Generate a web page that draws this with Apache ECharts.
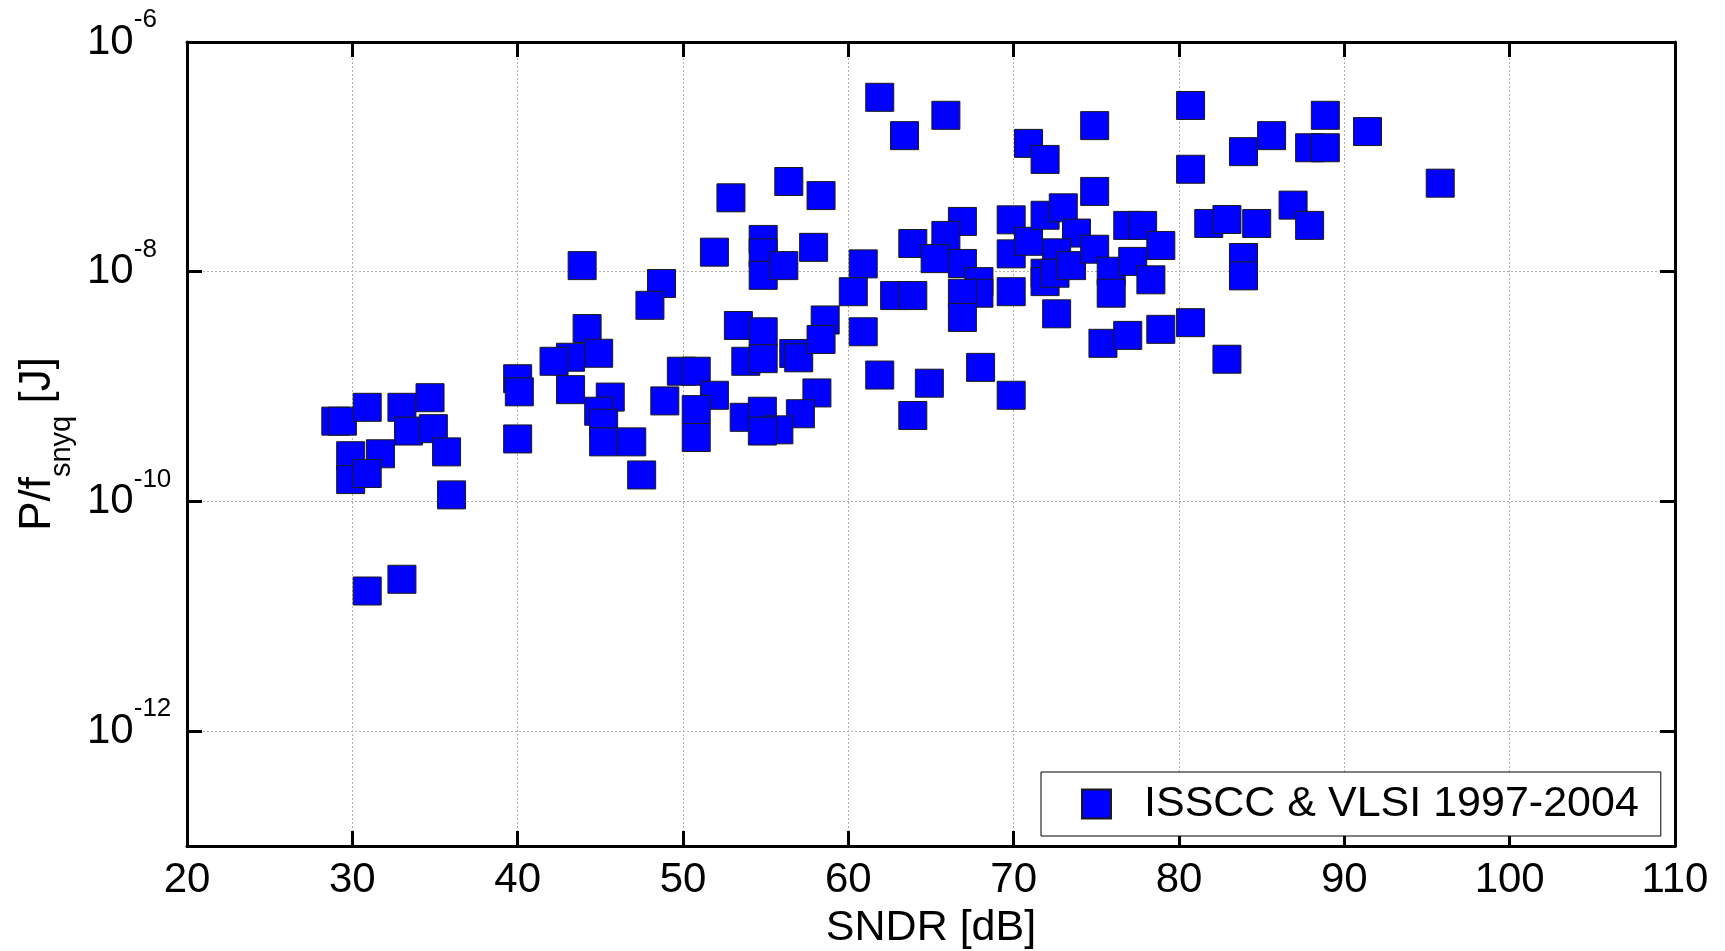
<!DOCTYPE html>
<html>
<head>
<meta charset="utf-8">
<script src="https://cdn.jsdelivr.net/npm/echarts@6/dist/echarts.min.js"></script>
<style>
html,body{margin:0;padding:0;background:#fff;}
#chart{width:1725px;height:951px;}
</style>
</head>
<body>
<div id="chart"></div>
<script>
// SNDR [dB]
const sndr = [
  29.0, 29.4, 30.9, 33.0, 34.7, 33.4, 34.9, 29.9, 31.7, 29.9, 30.9, 35.7, 36.0, 30.9, 33.0,
  40.0, 40.1, 40.0,
  43.9, 48.7, 48.0, 44.2, 43.2, 42.2, 44.9, 43.2, 45.6, 44.9, 45.2, 45.2, 46.9, 47.5, 48.9,
  49.9, 50.8, 51.9, 50.8, 50.8, 51.9, 53.35, 53.8, 53.7,
  61.9, 63.4, 65.9, 70.9, 71.9, 74.9, 74.9, 80.7, 80.7,
  52.9, 56.4, 58.35, 54.85, 54.85, 54.85, 56.1, 57.9,
  54.85, 54.85, 56.7, 57.0, 58.6, 58.35,
  60.9, 60.3, 60.9, 62.8, 63.9, 61.9, 64.9, 63.9, 68.0, 69.85,
  58.1, 57.1, 54.8, 55.8, 54.8,
  66.9, 65.9, 63.9, 65.25, 66.9, 67.9, 67.9, 66.9, 66.9,
  69.85, 69.85, 69.85, 70.9, 71.9, 73.0, 73.8, 72.6, 71.9, 71.9, 72.5, 73.5, 74.9, 75.9, 75.9,
  76.9, 77.8, 77.2, 78.3, 78.9,
  72.6, 75.4, 76.9, 78.9, 80.7,
  88.85, 85.6, 83.9, 87.9, 88.85, 91.4, 95.8, 81.8, 82.9, 84.7, 86.9, 87.9, 83.9, 83.9, 82.9
];
// P / f_snyq [J]
const energy = [
  5.0e-10, 5.0e-10, 6.6e-10, 6.6e-10, 8.0e-10, 4.1e-10, 4.3e-10, 2.5e-10, 2.6e-10, 1.55e-10, 1.75e-10, 2.7e-10, 1.14e-10, 1.66e-11, 2.1e-11,
  1.17e-9, 9.0e-10, 3.5e-10,
  1.13e-8, 7.9e-9, 5.1e-9, 3.2e-9, 1.8e-9, 1.66e-9, 1.95e-9, 9.4e-10, 8.1e-10, 6.1e-10, 4.8e-10, 3.3e-10, 3.3e-10, 1.7e-10, 7.5e-10,
  1.36e-9, 1.36e-9, 8.4e-10, 6.3e-10, 3.6e-10, 1.48e-8, 3.4e-9, 1.66e-9, 5.4e-10,
  3.3e-7, 1.53e-7, 2.3e-7, 1.31e-7, 9.5e-8, 1.87e-7, 5.0e-8, 2.8e-7, 7.8e-8,
  4.4e-8, 6.1e-8, 4.6e-8, 1.91e-8, 1.46e-8, 9.3e-9, 1.13e-8, 1.63e-8,
  3.0e-9, 1.75e-9, 1.94e-9, 1.78e-9, 3.8e-9, 2.57e-9,
  1.17e-8, 6.7e-9, 3.0e-9, 6.2e-9, 6.2e-9, 1.26e-9, 1.07e-9, 5.6e-10, 1.47e-9, 8.4e-10,
  8.8e-10, 5.8e-10, 6.1e-10, 4.2e-10, 4.1e-10,
  2.74e-8, 2.07e-8, 1.76e-8, 1.3e-8, 1.18e-8, 8.2e-9, 6.5e-9, 6.5e-9, 4.0e-9,
  2.83e-8, 1.43e-8, 6.7e-9, 1.84e-8, 3.1e-8, 3.6e-8, 2.17e-8, 1.46e-8, 9.7e-9, 8.2e-9, 9.7e-9, 1.13e-8, 1.57e-8, 1.01e-8, 6.5e-9,
  2.53e-8, 2.53e-8, 1.23e-8, 8.5e-9, 1.69e-8,
  4.3e-9, 2.38e-9, 2.79e-9, 3.15e-9, 3.6e-9,
  2.3e-7, 1.53e-7, 1.11e-7, 1.2e-7, 1.2e-7, 1.66e-7, 5.9e-8, 2.63e-8, 2.85e-8, 2.63e-8, 3.8e-8, 2.53e-8, 1.33e-8, 9.2e-9, 1.73e-9
];
const seriesName = 'ISSCC & VLSI 1997-2004';
const xMin = 20, xMax = 110, xStep = 10;
const yExpMin = -13, yExpMax = -6;
const yTickExponents = [-12, -10, -8, -6];

const FONT = '"Liberation Sans", Arial, Helvetica, sans-serif';
const yTickValues = yTickExponents.map(e => parseFloat('1e' + e));
const yMin = parseFloat('1e' + yExpMin), yMax = parseFloat('1e' + yExpMax);
const points = sndr.map((x, i) => [x, energy[i]]);

const axisLineStyle = { color: '#000', width: 3 };
const gridLine = { show: true, lineStyle: { color: '#b0b0b0', width: 1, type: [2, 2] } };

const chart = echarts.init(document.getElementById('chart'), null, { renderer: 'canvas' });
chart.setOption({
  animation: false,
  backgroundColor: '#fff',
  textStyle: { fontFamily: FONT },
  grid: { left: 187, right: 50, top: 42, bottom: 105, containLabel: false, outerBoundsMode: 'none' },
  legend: {
    data: [seriesName],
    left: 1041, top: 772,
    orient: 'horizontal',
    icon: 'rect',
    itemWidth: 29, itemHeight: 29,
    padding: [10, 22, 10, 40],
    borderColor: '#000', borderWidth: 1, backgroundColor: '#fff',
    textStyle: { fontSize: 43, lineHeight: 44, color: '#000', fontFamily: FONT, padding: [0, 0, 0, 28] }
  },
  xAxis: [{
    type: 'value', min: xMin, max: xMax, interval: xStep, position: 'bottom',
    name: 'SNDR [dB]', nameLocation: 'middle', nameGap: 58,
    nameTextStyle: { fontSize: 43, lineHeight: 44, color: '#000', fontFamily: FONT },
    axisLine: { show: true, onZero: false, lineStyle: axisLineStyle },
    axisTick: { show: true, inside: true, length: 15, lineStyle: { color: '#000', width: 3 } },
    axisLabel: { fontSize: 42, lineHeight: 42, color: '#000', margin: 13, fontFamily: FONT },
    splitLine: gridLine
  }, {
    type: 'value', min: xMin, max: xMax, interval: xStep, position: 'top',
    axisLine: { show: true, onZero: false, lineStyle: axisLineStyle },
    axisTick: { show: true, inside: true, length: 15, lineStyle: { color: '#000', width: 3 } },
    axisLabel: { show: false },
    splitLine: { show: false }
  }],
  yAxis: [{
    type: 'log', logBase: 10, min: yMin, max: yMax, position: 'left',
    name: '{m|P/f}{s|snyq}{m| [J]}', nameLocation: 'middle', nameGap: 116, nameRotate: 90,
    nameTextStyle: {
      color: '#000', fontFamily: FONT, fontSize: 44,
      rich: {
        m: { fontSize: 44, lineHeight: 44, color: '#000', fontFamily: FONT },
        s: { fontSize: 29, lineHeight: 29, color: '#000', fontFamily: FONT, padding: [47, 0, 0, 0] }
      }
    },
    axisLine: { show: true, onZero: false, lineStyle: axisLineStyle },
    axisTick: { show: true, inside: true, length: 15, lineStyle: { color: '#000', width: 3 }, customValues: yTickValues },
    minorTick: { show: false },
    axisLabel: {
      customValues: yTickValues,
      align: 'left', margin: 100, color: '#000',
      formatter: function (v) {
        const e = Math.round(Math.log10(v));
        return '{b|10}{s|' + e + '}';
      },
      rich: {
        b: { fontSize: 42, lineHeight: 42, color: '#000', fontFamily: FONT },
        s: { fontSize: 26, lineHeight: 26, color: '#000', fontFamily: FONT, padding: [0, 0, 44, 0] }
      }
    },
    splitLine: gridLine
  }, {
    type: 'log', logBase: 10, min: yMin, max: yMax, position: 'right',
    axisLine: { show: true, onZero: false, lineStyle: axisLineStyle },
    axisTick: { show: true, inside: true, length: 15, lineStyle: { color: '#000', width: 3 }, customValues: yTickValues },
    axisLabel: { show: false },
    minorTick: { show: false },
    splitLine: { show: false }
  }],
  series: [{
    name: seriesName,
    type: 'scatter',
    xAxisIndex: 0, yAxisIndex: 0,
    symbol: 'rect',
    symbolSize: 28,
    itemStyle: { color: '#0000ff', borderColor: '#1a1a1a', borderWidth: 1, opacity: 1 },
    emphasis: { disabled: true },
    data: points
  }]
});
</script>
</body>
</html>
